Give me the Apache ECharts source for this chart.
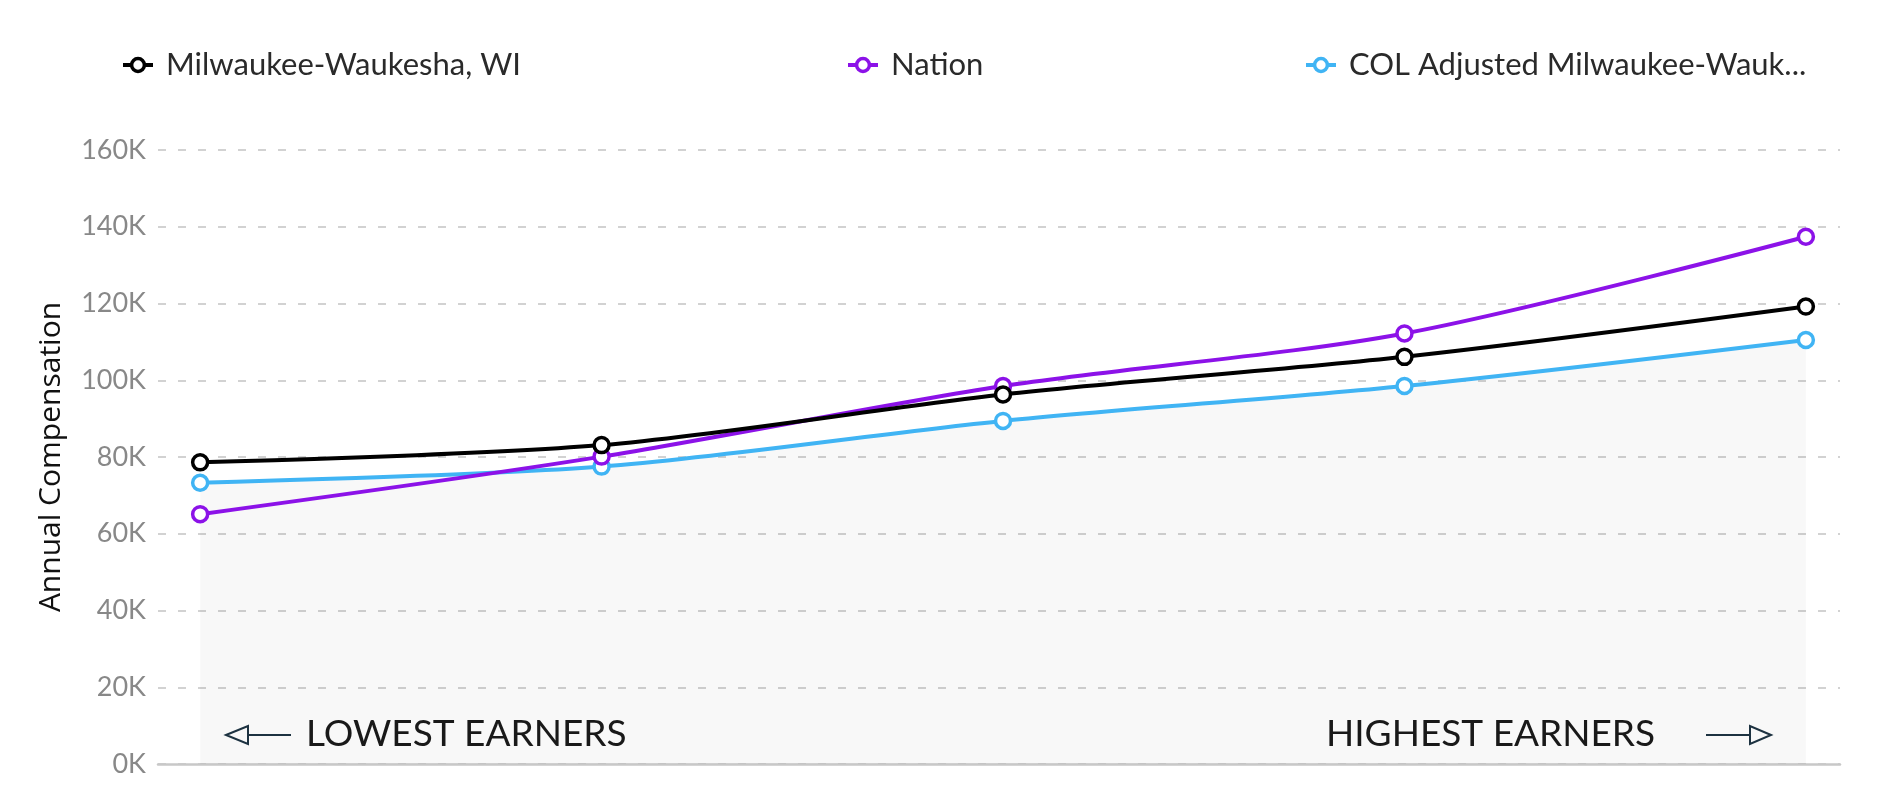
<!DOCTYPE html>
<html>
<head>
<meta charset="utf-8">
<title>Annual Compensation</title>
<script src="https://cdn.jsdelivr.net/npm/echarts@6/dist/echarts.min.js"></script>
<style>
    html, body { margin: 0; padding: 0; background: #fff; }
    #chart { width: 1883px; height: 800px; }
</style>
</head>
<body>
<div id="chart"></div>
<script>
// earner bands, lowest to highest (no labels shown on the axis)
var bandIndex = [0, 1, 2, 3, 4];

var seriesNames = ['Milwaukee-Waukesha, WI', 'Nation', 'COL Adjusted Milwaukee-Waukesha, WI'];
var milwaukee = [78600, 83100, 96300, 106100, 119200];
var nation = [65100, 80100, 98500, 112200, 137400];
var colAdjusted = [73300, 77500, 89400, 98500, 110500];

var yTicks = [0, 20000, 40000, 60000, 80000, 100000, 120000, 140000, 160000];

(function () {
    var chart = echarts.init(document.getElementById('chart'));

    function pairs(values) {
        var out = [];
        for (var i = 0; i < bandIndex.length; i++) {
            out.push([bandIndex[i], values[i]]);
        }
        return out;
    }

    function legendAt(name, left) {
        return {
            data: [name],
            left: left,
            top: 42,
            itemWidth: 30,
            itemHeight: 16,
            lineStyle: { width: 4 },
            itemStyle: { borderWidth: 3.5 },
            formatter: function (n) {
                return n.length > 27 ? n.slice(0, 27) + '...' : n;
            },
            textStyle: {
                fontFamily: 'Lato',
                fontSize: 31,
                color: '#2a2a2a',
                lineHeight: 36,
                padding: [0, 0, 0, 8]
            }
        };
    }

    function lineSerie(name, values, color, z) {
        return {
            name: name,
            type: 'line',
            data: pairs(values),
            smooth: 0.3,
            z: z,
            symbol: 'circle',
            symbolSize: 15,
            showSymbol: true,
            lineStyle: { color: color, width: 4 },
            itemStyle: { color: '#ffffff', borderColor: color, borderWidth: 3.5 },
            emphasis: { disabled: true }
        };
    }

    var arrowColor = '#1e3443';
    var textColor = '#1a1a1a';

    var blue = lineSerie(seriesNames[2], colAdjusted, '#40b4f4', 2);
    blue.areaStyle = { color: 'rgba(0,0,0,0.04)', origin: 'start' };

    var option = {
        animation: false,
        backgroundColor: '#fff',
        legend: [
            legendAt(seriesNames[0], 116),
            legendAt(seriesNames[1], 841),
            legendAt(seriesNames[2], 1299)
        ],
        grid: {
            left: 158,
            right: 43,
            top: 150,
            bottom: 36
        },
        xAxis: {
            type: 'value',
            min: -0.105,
            max: 4.085,
            axisLine: { show: true, lineStyle: { color: '#c8c8c8', width: 2.5 } },
            axisTick: { show: false },
            axisLabel: { show: false },
            splitLine: { show: false }
        },
        yAxis: {
            type: 'value',
            min: yTicks[0],
            max: yTicks[yTicks.length - 1],
            interval: yTicks[1] - yTicks[0],
            name: 'Annual Compensation',
            nameLocation: 'middle',
            nameRotate: 90,
            nameGap: 92,
            nameTextStyle: {
                fontFamily: 'Open Sans',
                fontSize: 30,
                color: '#111'
            },
            axisLine: { show: false },
            axisTick: { show: false },
            axisLabel: {
                margin: 12,
                fontFamily: 'Lato',
                fontSize: 27,
                color: '#888888',
                formatter: function (v) {
                    return (v / 1000) + 'K';
                }
            },
            splitLine: {
                show: true,
                lineStyle: { color: '#c4c4c4', width: 1.5, type: [8, 12] }
            }
        },
        graphic: [
            // lowest earners, arrow pointing left
            {
                type: 'polygon',
                shape: { points: [[226, 735], [248, 726], [248, 744]] },
                style: { fill: 'transparent', stroke: arrowColor, lineWidth: 2 }
            },
            {
                type: 'line',
                shape: { x1: 248, y1: 735, x2: 291, y2: 735 },
                style: { stroke: arrowColor, lineWidth: 2 }
            },
            {
                type: 'text',
                left: 306,
                top: 716,
                style: {
                    text: 'LOWEST EARNERS',
                    fontFamily: 'Lato',
                    fontSize: 37,
                    fill: textColor
                }
            },
            // highest earners, arrow pointing right
            {
                type: 'text',
                left: 1326,
                top: 716,
                style: {
                    text: 'HIGHEST EARNERS',
                    fontFamily: 'Lato',
                    fontSize: 37,
                    fill: textColor
                }
            },
            {
                type: 'line',
                shape: { x1: 1706, y1: 735, x2: 1750, y2: 735 },
                style: { stroke: arrowColor, lineWidth: 2 }
            },
            {
                type: 'polygon',
                shape: { points: [[1771, 735], [1750, 726], [1750, 744]] },
                style: { fill: 'transparent', stroke: arrowColor, lineWidth: 2 }
            }
        ],
        series: [
            lineSerie(seriesNames[0], milwaukee, '#000000', 4),
            lineSerie(seriesNames[1], nation, '#8c12e8', 3),
            blue
        ]
    };

    chart.setOption(option);
})();
</script>
</body>
</html>
